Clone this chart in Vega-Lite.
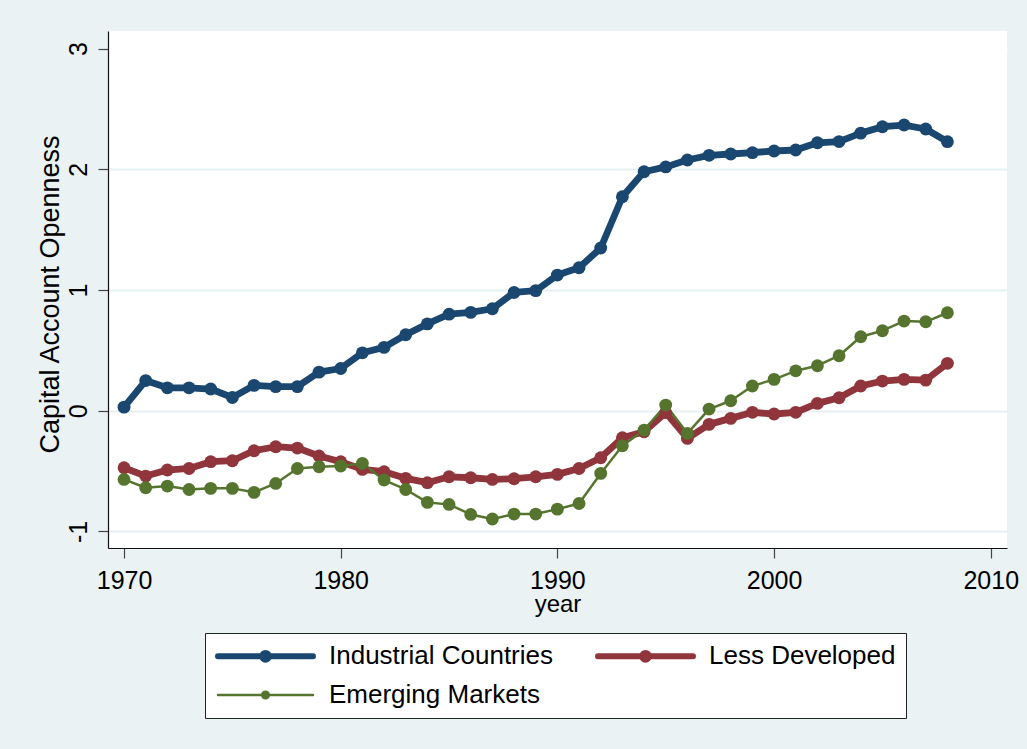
{
  "$schema": "https://vega.github.io/schema/vega-lite/v6.json",
  "width": 899,
  "height": 517,
  "autosize": {"type": "none"},
  "padding": {"left": 108, "top": 31, "right": 20, "bottom": 201},
  "background": "#EAF2F3",
  "config": {
    "view": {"fill": "white", "stroke": null},
    "font": "Liberation Sans"
  },
  "data": {
    "values": [
      {"year": 1970, "series": "Industrial Countries", "value": 0.03},
      {"year": 1971, "series": "Industrial Countries", "value": 0.25},
      {"year": 1972, "series": "Industrial Countries", "value": 0.19},
      {"year": 1973, "series": "Industrial Countries", "value": 0.19},
      {"year": 1974, "series": "Industrial Countries", "value": 0.18},
      {"year": 1975, "series": "Industrial Countries", "value": 0.11},
      {"year": 1976, "series": "Industrial Countries", "value": 0.21},
      {"year": 1977, "series": "Industrial Countries", "value": 0.2},
      {"year": 1978, "series": "Industrial Countries", "value": 0.2},
      {"year": 1979, "series": "Industrial Countries", "value": 0.32},
      {"year": 1980, "series": "Industrial Countries", "value": 0.35},
      {"year": 1981, "series": "Industrial Countries", "value": 0.48},
      {"year": 1982, "series": "Industrial Countries", "value": 0.525},
      {"year": 1983, "series": "Industrial Countries", "value": 0.63},
      {"year": 1984, "series": "Industrial Countries", "value": 0.72},
      {"year": 1985, "series": "Industrial Countries", "value": 0.8},
      {"year": 1986, "series": "Industrial Countries", "value": 0.815},
      {"year": 1987, "series": "Industrial Countries", "value": 0.845},
      {"year": 1988, "series": "Industrial Countries", "value": 0.98},
      {"year": 1989, "series": "Industrial Countries", "value": 0.995},
      {"year": 1990, "series": "Industrial Countries", "value": 1.124},
      {"year": 1991, "series": "Industrial Countries", "value": 1.185},
      {"year": 1992, "series": "Industrial Countries", "value": 1.348},
      {"year": 1993, "series": "Industrial Countries", "value": 1.773},
      {"year": 1994, "series": "Industrial Countries", "value": 1.98},
      {"year": 1995, "series": "Industrial Countries", "value": 2.02},
      {"year": 1996, "series": "Industrial Countries", "value": 2.077},
      {"year": 1997, "series": "Industrial Countries", "value": 2.116},
      {"year": 1998, "series": "Industrial Countries", "value": 2.127},
      {"year": 1999, "series": "Industrial Countries", "value": 2.138},
      {"year": 2000, "series": "Industrial Countries", "value": 2.152},
      {"year": 2001, "series": "Industrial Countries", "value": 2.16},
      {"year": 2002, "series": "Industrial Countries", "value": 2.22},
      {"year": 2003, "series": "Industrial Countries", "value": 2.23},
      {"year": 2004, "series": "Industrial Countries", "value": 2.3},
      {"year": 2005, "series": "Industrial Countries", "value": 2.353},
      {"year": 2006, "series": "Industrial Countries", "value": 2.367},
      {"year": 2007, "series": "Industrial Countries", "value": 2.334},
      {"year": 2008, "series": "Industrial Countries", "value": 2.229},
      {"year": 1970, "series": "Less Developed", "value": -0.472},
      {"year": 1971, "series": "Less Developed", "value": -0.541},
      {"year": 1972, "series": "Less Developed", "value": -0.491},
      {"year": 1973, "series": "Less Developed", "value": -0.478},
      {"year": 1974, "series": "Less Developed", "value": -0.422},
      {"year": 1975, "series": "Less Developed", "value": -0.414},
      {"year": 1976, "series": "Less Developed", "value": -0.331},
      {"year": 1977, "series": "Less Developed", "value": -0.298},
      {"year": 1978, "series": "Less Developed", "value": -0.309},
      {"year": 1979, "series": "Less Developed", "value": -0.375},
      {"year": 1980, "series": "Less Developed", "value": -0.422},
      {"year": 1981, "series": "Less Developed", "value": -0.486},
      {"year": 1982, "series": "Less Developed", "value": -0.505},
      {"year": 1983, "series": "Less Developed", "value": -0.56},
      {"year": 1984, "series": "Less Developed", "value": -0.596},
      {"year": 1985, "series": "Less Developed", "value": -0.547},
      {"year": 1986, "series": "Less Developed", "value": -0.555},
      {"year": 1987, "series": "Less Developed", "value": -0.569},
      {"year": 1988, "series": "Less Developed", "value": -0.563},
      {"year": 1989, "series": "Less Developed", "value": -0.547},
      {"year": 1990, "series": "Less Developed", "value": -0.527},
      {"year": 1991, "series": "Less Developed", "value": -0.478},
      {"year": 1992, "series": "Less Developed", "value": -0.389},
      {"year": 1993, "series": "Less Developed", "value": -0.224},
      {"year": 1994, "series": "Less Developed", "value": -0.174},
      {"year": 1995, "series": "Less Developed", "value": -0.016},
      {"year": 1996, "series": "Less Developed", "value": -0.229},
      {"year": 1997, "series": "Less Developed", "value": -0.113},
      {"year": 1998, "series": "Less Developed", "value": -0.063},
      {"year": 1999, "series": "Less Developed", "value": -0.013},
      {"year": 2000, "series": "Less Developed", "value": -0.027},
      {"year": 2001, "series": "Less Developed", "value": -0.013},
      {"year": 2002, "series": "Less Developed", "value": 0.061},
      {"year": 2003, "series": "Less Developed", "value": 0.108},
      {"year": 2004, "series": "Less Developed", "value": 0.205},
      {"year": 2005, "series": "Less Developed", "value": 0.246},
      {"year": 2006, "series": "Less Developed", "value": 0.26},
      {"year": 2007, "series": "Less Developed", "value": 0.254},
      {"year": 2008, "series": "Less Developed", "value": 0.393},
      {"year": 1970, "series": "Emerging Markets", "value": -0.569},
      {"year": 1971, "series": "Emerging Markets", "value": -0.638},
      {"year": 1972, "series": "Emerging Markets", "value": -0.624},
      {"year": 1973, "series": "Emerging Markets", "value": -0.652},
      {"year": 1974, "series": "Emerging Markets", "value": -0.643},
      {"year": 1975, "series": "Emerging Markets", "value": -0.643},
      {"year": 1976, "series": "Emerging Markets", "value": -0.676},
      {"year": 1977, "series": "Emerging Markets", "value": -0.602},
      {"year": 1978, "series": "Emerging Markets", "value": -0.478},
      {"year": 1979, "series": "Emerging Markets", "value": -0.464},
      {"year": 1980, "series": "Emerging Markets", "value": -0.458},
      {"year": 1981, "series": "Emerging Markets", "value": -0.436},
      {"year": 1982, "series": "Emerging Markets", "value": -0.574},
      {"year": 1983, "series": "Emerging Markets", "value": -0.652},
      {"year": 1984, "series": "Emerging Markets", "value": -0.759},
      {"year": 1985, "series": "Emerging Markets", "value": -0.776},
      {"year": 1986, "series": "Emerging Markets", "value": -0.859},
      {"year": 1987, "series": "Emerging Markets", "value": -0.897},
      {"year": 1988, "series": "Emerging Markets", "value": -0.856},
      {"year": 1989, "series": "Emerging Markets", "value": -0.856},
      {"year": 1990, "series": "Emerging Markets", "value": -0.815},
      {"year": 1991, "series": "Emerging Markets", "value": -0.768},
      {"year": 1992, "series": "Emerging Markets", "value": -0.519},
      {"year": 1993, "series": "Emerging Markets", "value": -0.29},
      {"year": 1994, "series": "Emerging Markets", "value": -0.16},
      {"year": 1995, "series": "Emerging Markets", "value": 0.047},
      {"year": 1996, "series": "Emerging Markets", "value": -0.187},
      {"year": 1997, "series": "Emerging Markets", "value": 0.014},
      {"year": 1998, "series": "Emerging Markets", "value": 0.083},
      {"year": 1999, "series": "Emerging Markets", "value": 0.205},
      {"year": 2000, "series": "Emerging Markets", "value": 0.26},
      {"year": 2001, "series": "Emerging Markets", "value": 0.331},
      {"year": 2002, "series": "Emerging Markets", "value": 0.373},
      {"year": 2003, "series": "Emerging Markets", "value": 0.456},
      {"year": 2004, "series": "Emerging Markets", "value": 0.613},
      {"year": 2005, "series": "Emerging Markets", "value": 0.663},
      {"year": 2006, "series": "Emerging Markets", "value": 0.743},
      {"year": 2007, "series": "Emerging Markets", "value": 0.737},
      {"year": 2008, "series": "Emerging Markets", "value": 0.812}
    ]
  },
  "mark": {
    "type": "line",
    "strokeCap": "round",
    "strokeJoin": "round",
    "point": {"filled": true, "size": 165, "opacity": 1}
  },
  "encoding": {
    "x": {
      "field": "year",
      "type": "quantitative",
      "scale": {"domain": [1969.26, 2010.75], "nice": false, "zero": false},
      "axis": {
        "values": [1970, 1980, 1990, 2000, 2010],
        "format": "d",
        "grid": false,
        "title": "year",
        "titleFont": "Liberation Sans",
        "titleFontSize": 24,
        "titleFontWeight": "normal",
        "titleColor": "black",
        "titleBaseline": "alphabetic",
        "titleY": 63,
        "labelFont": "Liberation Sans",
        "labelFontSize": 25,
        "labelColor": "black",
        "labelBaseline": "alphabetic",
        "labelPadding": 30,
        "labelFlush": false,
        "labelOverlap": false,
        "tickSize": 10,
        "tickColor": "#444444",
        "tickWidth": 1.2,
        "domainColor": "#111111",
        "domainWidth": 1.2
      }
    },
    "y": {
      "field": "value",
      "type": "quantitative",
      "scale": {"domain": [-1.137, 3.146], "nice": false, "zero": false},
      "axis": {
        "values": [-1, 0, 1, 2, 3],
        "format": "d",
        "labelExpr": "datum.value < 0 ? '-' + abs(datum.value) : datum.label",
        "grid": true,
        "gridColor": {"condition": {"test": "datum.value === 3", "value": "white"}, "value": "#E6EFF1"},
        "gridWidth": 2,
        "title": "Capital Account Openness",
        "titleFont": "Liberation Sans",
        "titleFontSize": 27,
        "titleFontWeight": "normal",
        "titleColor": "black",
        "titleAngle": -90,
        "titleAlign": "center",
        "titleBaseline": "alphabetic",
        "titleX": -50,
        "titleY": 263,
        "labelFont": "Liberation Sans",
        "labelFontSize": 25,
        "labelColor": "black",
        "labelAngle": -90,
        "labelAlign": "center",
        "labelBaseline": "alphabetic",
        "labelPadding": 12,
        "labelFlush": false,
        "labelOverlap": false,
        "tickSize": 10,
        "tickColor": "#444444",
        "tickWidth": 1.2,
        "domainColor": "#111111",
        "domainWidth": 1.2
      }
    },
    "color": {
      "field": "series",
      "type": "nominal",
      "sort": ["Industrial Countries", "Less Developed", "Emerging Markets"],
      "scale": {
        "domain": ["Industrial Countries", "Less Developed", "Emerging Markets"],
        "range": ["#1A476F", "#90353B", "#55752F"]
      },
      "legend": {
        "title": null,
        "orient": "none",
        "legendX": 97,
        "legendY": 602,
        "columns": 2,
        "direction": "horizontal",
        "strokeColor": "#222222",
        "fillColor": "white",
        "padding": 10,
        "rowPadding": 10,
        "columnPadding": 33,
        "labelFont": "Liberation Sans",
        "labelFontSize": 26,
        "labelColor": "black",
        "labelLimit": 400,
        "labelOffset": 88,
        "symbolType": "M-1,0L1,0M-0.07,0A0.07,0.07,0,1,1,0.07,0A0.07,0.07,0,1,1,-0.07,0Z",
        "symbolSize": 9025,
        "symbolOpacity": 1,
        "encode": {
          "symbols": {
            "update": {
              "x": {"value": 50.5},
              "fill": {"scale": "color", "field": "value"},
              "stroke": {"scale": "color", "field": "value"},
              "strokeCap": {"value": "round"},
              "strokeWidth": {"signal": "datum.value === 'Emerging Markets' ? 2.5 : 6"}
            }
          }
        }
      }
    },
    "strokeWidth": {
      "condition": {"test": "datum.series === 'Emerging Markets'", "value": 2.5},
      "value": 6.8
    }
  }
}
